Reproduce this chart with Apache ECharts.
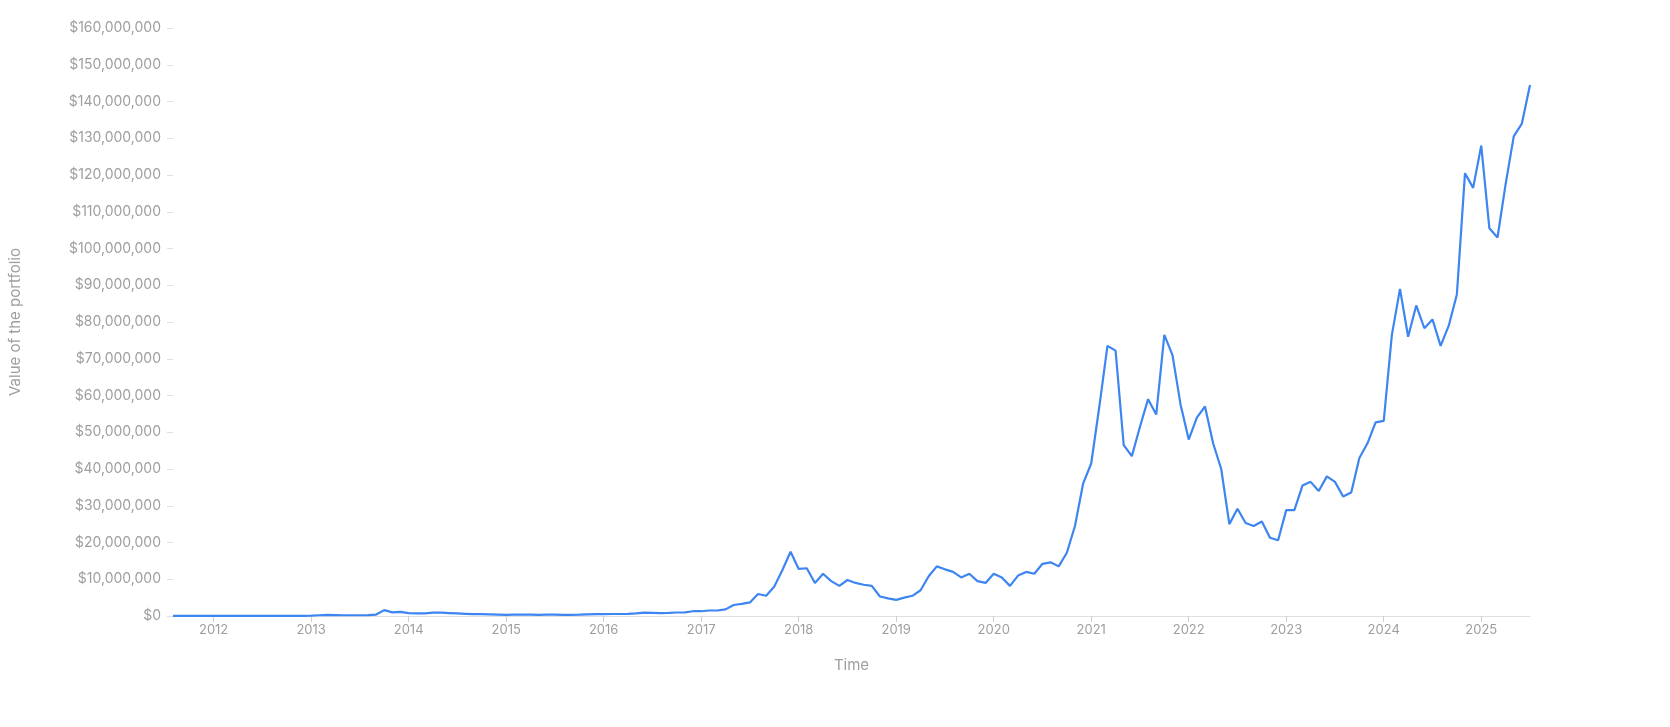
<!DOCTYPE html>
<html><head><meta charset="utf-8">
<script src="https://cdn.jsdelivr.net/npm/echarts@6/dist/echarts.min.js"></script>
<style>html,body{margin:0;padding:0;background:#fff}#c{width:1670px;height:727px}</style>
</head><body><div id="c"></div>
<script>
const startYear = 2011, startMonth = 8;
// monthly values in millions of USD, Aug 2011 .. Jul 2025
const values2011 = [0.02,0.02,0.02,0.02,0.02];
const values2012 = [0.03,0.03,0.03,0.03,0.03,0.03,0.04,0.05,0.05,0.05,0.05,0.06];
const values2013 = [0.1,0.2,0.3,0.25,0.2,0.2,0.2,0.25,0.4,1.6,1.0,1.1];
const values2014 = [0.8,0.7,0.7,0.9,0.9,0.8,0.7,0.6,0.5,0.5,0.45,0.4];
const values2015 = [0.3,0.35,0.35,0.35,0.3,0.35,0.35,0.3,0.3,0.35,0.45,0.5];
const values2016 = [0.5,0.55,0.55,0.6,0.7,0.9,0.85,0.8,0.85,0.95,1.0,1.3];
const values2017 = [1.3,1.5,1.5,1.8,3.0,3.3,3.7,6.0,5.5,8.0,12.5,17.5];
const values2018 = [12.8,13.0,9.0,11.5,9.5,8.2,9.8,9.0,8.5,8.2,5.3,4.8];
const values2019 = [4.4,5.0,5.5,7.0,10.8,13.5,12.7,12.0,10.5,11.5,9.5,9.0];
const values2020 = [11.5,10.5,8.2,11.0,12.0,11.5,14.2,14.6,13.5,17.2,24.5,36.0];
const values2021 = [41.5,57.0,73.5,72.2,46.5,43.5,51.5,59.0,54.8,76.5,71.0,57.5];
const values2022 = [48.0,54.0,57.0,47.0,40.0,25.0,29.2,25.3,24.5,25.7,21.3,20.6];
const values2023 = [28.8,28.8,35.5,36.5,34.0,38.0,36.5,32.5,33.6,43.0,47.0,52.7];
const values2024 = [53.1,76.5,89.0,76.0,84.5,78.3,80.7,73.5,79.0,87.5,120.5,116.5];
const values2025 = [128.0,105.5,103.0,117.5,130.5,134.0,144.5];
const yearTicks = [2012,2013,2014,2015,2016,2017,2018,2019,2020,2021,2022,2023,2024,2025];

const allValues = [].concat(values2011,values2012,values2013,values2014,values2015,values2016,values2017,values2018,values2019,values2020,values2021,values2022,values2023,values2024,values2025);
const data = allValues.map((v,i)=>{
  const m = startMonth - 1 + i;
  return [startYear + m/12, v*1e6];
});
const grey = '#9e9e9e';
const chart = echarts.init(document.getElementById('c'));
chart.setOption({
  animation:false,
  textStyle:{fontFamily:'Inter'},
  grid:{left:170,right:140,top:28,bottom:111},
  xAxis:{type:'value',min:data[0][0],max:data[data.length-1][0],
    name:'Time',nameLocation:'middle',nameGap:42,nameTextStyle:{color:grey,fontSize:15},
    axisLine:{show:true,lineStyle:{color:'#e0e0e0'}},
    axisTick:{show:true,customValues:yearTicks,length:6,lineStyle:{color:'#d0d0d0'}},
    axisLabel:{customValues:yearTicks,color:grey,fontSize:13,formatter:v=>String(Math.round(v))},
    splitLine:{show:false}},
  yAxis:{type:'value',min:0,max:160e6,interval:10e6,
    name:'Value of the portfolio',nameLocation:'middle',nameGap:150,nameTextStyle:{color:grey,fontSize:15},
    axisLine:{show:false},
    axisTick:{show:true,length:6,lineStyle:{color:'#e0e0e0'}},
    axisLabel:{color:grey,fontSize:14,margin:12,formatter:v=>'$'+v.toLocaleString('en-US')},
    splitLine:{show:false}},
  series:[{type:'line',data:data,showSymbol:false,lineStyle:{color:'#3d85f0',width:2.2}}]
});
</script></body></html>
